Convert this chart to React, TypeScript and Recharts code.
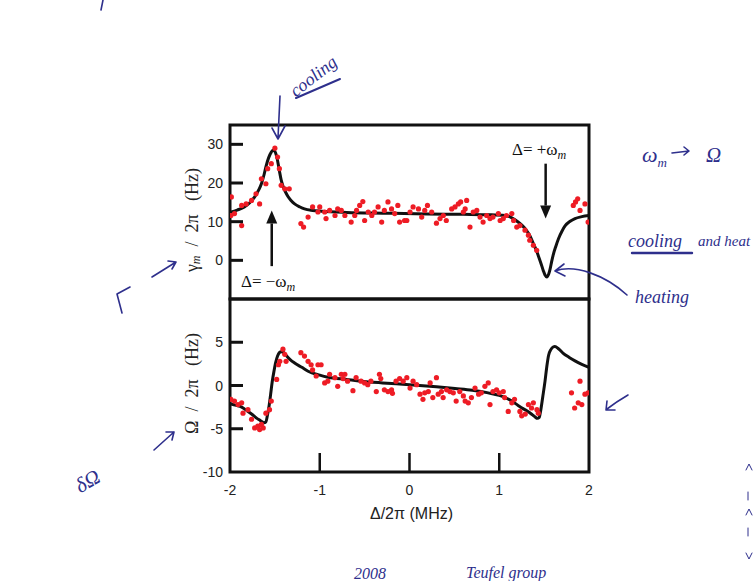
import { ComposedChart, Line, Scatter, XAxis, YAxis, ReferenceArea, ReferenceLine } from "recharts";

// detuning axis, MHz
const X_TICKS = [-2, -1, 0, 1, 2];
const GAMMA_TICKS = [0, 10, 20, 30];
const OMEGA_TICKS = [-10, -5, 0, 5];

// fitted damping rate γm/2π (Hz)
const gammaFitX = [-2, -1.92, -1.84, -1.78, -1.725, -1.68, -1.65, -1.62, -1.6, -1.57, -1.54, -1.52, -1.5, -1.48, -1.45, -1.43, -1.41, -1.38, -1.354, -1.32, -1.28, -1.22, -1.17, -1.08, -0.98, -0.7, -0.3, 0.2, 0.6, 0.9, 1.064, 1.14, 1.21, 1.26, 1.305, 1.345, 1.38, 1.41, 1.435, 1.465, 1.49, 1.51, 1.53, 1.55, 1.565, 1.585, 1.6, 1.63, 1.66, 1.7, 1.733, 1.79, 1.844, 1.92, 2];
const gammaFitY = [12.4, 13.0, 13.8, 14.9, 16.4, 18.2, 19.8, 22.2, 24.2, 26.5, 28.0, 28.5, 28.2, 26.9, 23.2, 20.8, 19.2, 17.6, 16.5, 15.5, 14.6, 13.8, 13.3, 12.9, 12.7, 12.4, 12.2, 12.0, 11.9, 11.8, 11.6, 11.0, 9.9, 8.9, 7.7, 6.2, 4.3, 2.8, 1.2, -0.8, -2.6, -3.8, -4.3, -3.6, -2.4, -0.2, 1.3, 3.6, 5.6, 7.6, 8.9, 10.1, 10.8, 11.3, 11.6];

// measured damping rate
const gammaDataX = [-1.985, -1.99, -1.95, -1.87, -1.87, -1.82, -1.76, -1.67, -1.71, -1.65, -1.6, -1.58, -1.54, -1.5, -1.47, -1.45, -1.43, -1.39, -1.34, -1.21, -1.18, -1.13, -1.08, -1.02, -1.0, -0.945, -0.93, -0.89, -0.83, -0.8, -0.76, -0.72, -0.65, -0.61, -0.59, -0.555, -0.52, -0.5, -0.46, -0.42, -0.39, -0.35, -0.31, -0.28, -0.24, -0.2, -0.165, -0.13, -0.11, -0.055, -0.03, 0.006, 0.04, 0.1, 0.136, 0.17, 0.2, 0.247, 0.3, 0.34, 0.377, 0.41, 0.47, 0.507, 0.544, 0.57, 0.637, 0.6, 0.62, 0.674, 0.71, 0.75, 0.786, 0.82, 0.86, 0.897, 0.93, 0.99, 1.01, 1.045, 1.08, 1.14, 1.16, 1.195, 1.23, 1.287, 1.325, 1.34, 1.38, 1.417, 1.825, 1.85, 1.874, 1.9, 1.955, 1.99];
const gammaDataY = [16.4, 11.6, 12.1, 14.2, 9.0, 14.6, 15.5, 14.6, 17.2, 21.1, 19.8, 23.7, 25, 29, 26.7, 23.7, 19.4, 18.5, 18.5, 9.5, 8.6, 11.2, 13.8, 12.5, 13.8, 12.5, 10.8, 12.9, 11.6, 13.3, 12.9, 11.6, 9.9, 11.6, 12.9, 14.2, 15.2, 10.3, 12.5, 11.6, 12.5, 13.8, 9.9, 12.9, 15.1, 13.3, 12.1, 14.2, 9.9, 10.3, 10.3, 12.5, 13.8, 13.3, 11.2, 12.9, 14.2, 12.5, 9.6, 10.8, 11.6, 10.3, 13.3, 13.8, 14.6, 15.1, 15.5, 12.5, 13.3, 8.6, 12.5, 12.9, 11.2, 9.9, 11.6, 10.8, 11.2, 12.1, 10.3, 10.8, 11.6, 12.1, 10.3, 8.6, 9.0, 7.8, 6.5, 5.2, 3.9, 2.6, 14.2, 15.1, 15.9, 12.9, 14.6, 9.9];

// fitted frequency shift Ω/2π (Hz)
const omegaFitX = [-2, -1.93, -1.87, -1.8, -1.76, -1.7, -1.67, -1.64, -1.62, -1.6, -1.584, -1.565, -1.547, -1.53, -1.51, -1.49, -1.47, -1.45, -1.43, -1.4, -1.376, -1.33, -1.28, -1.2, -1.13, -1.0, -0.908, -0.7, -0.54, -0.3, 0, 0.3, 0.507, 0.7, 0.877, 1.0, 1.064, 1.14, 1.21, 1.27, 1.32, 1.37, 1.4, 1.425, 1.445, 1.46, 1.485, 1.51, 1.53, 1.55, 1.575, 1.6, 1.62, 1.66, 1.71, 1.78, 1.844, 1.92, 2];
const omegaFitY = [-2.1, -2.3, -2.5, -3.0, -3.3, -3.8, -4.0, -4.2, -4.3, -4.2, -3.5, -2.4, -1.0, 0.4, 1.65, 2.7, 3.4, 3.8, 3.9, 3.8, 3.5, 3.0, 2.6, 2.1, 1.65, 1.2, 0.96, 0.7, 0.5, 0.3, 0.1, -0.15, -0.35, -0.55, -0.85, -1.15, -1.4, -1.8, -2.3, -2.7, -3.0, -3.4, -3.65, -3.8, -3.7, -3.0, -1.3, 0.5, 2.2, 3.5, 4.15, 4.45, 4.5, 4.25, 3.75, 3.25, 2.85, 2.45, 2.1];

// measured frequency shift
const omegaDataX = [-1.99, -1.95, -1.91, -1.87, -1.855, -1.8, -1.76, -1.725, -1.69, -1.67, -1.65, -1.63, -1.6, -1.56, -1.54, -1.48, -1.46, -1.445, -1.41, -1.39, -1.375, -1.21, -1.17, -1.13, -1.096, -1.08, -1.02, -0.985, -1.04, -0.945, -0.91, -0.89, -0.83, -0.8, -0.76, -0.72, -0.74, -0.69, -0.63, -0.595, -0.54, -0.5, -0.465, -0.43, -0.37, -0.335, -0.32, -0.28, -0.24, -0.2, -0.19, -0.15, -0.11, -0.07, -0.03, 0.006, 0.04, 0.08, 0.117, 0.15, 0.17, 0.21, 0.23, 0.26, 0.3, 0.32, 0.356, 0.375, 0.414, 0.45, 0.488, 0.52, 0.56, 0.6, 0.62, 0.655, 0.69, 0.73, 0.77, 0.8, 0.84, 0.877, 0.897, 0.93, 0.97, 1.0, 1.045, 1.06, 1.1, 1.14, 1.17, 1.23, 1.25, 1.29, 1.325, 1.36, 1.38, 1.42, 1.435, 1.805, 1.84, 1.88, 1.9, 1.92, 1.955, 1.99];
const omegaDataY = [-1.6, -1.8, -2.2, -2.0, -3.2, -2.8, -3.9, -4.9, -4.7, -5.1, -4.5, -4.9, -3.2, -2.8, -1.8, 0.7, 2.4, 2.8, 4.2, 3.6, 2.8, 3.8, 3.4, 2.8, 2.4, 1.8, 2.4, 2.4, 1.1, 0.3, 0.5, 1.3, 0.9, -0.1, 1.3, 1.3, 0.8, 0.5, -0.6, 0.9, 0.5, 0.3, 0.1, 0.5, -0.7, 1.3, 0.8, -0.5, -0.7, -0.5, -0.9, 0.5, 0.8, 0.5, 0.9, -0.3, 0.5, 0.1, -1.0, -1.6, -0.85, -0.7, 0.3, -1.4, 0.9, -1.0, -0.7, -1.4, -0.5, -0.7, -0.85, -1.8, -0.7, -1.2, -1.8, -2.0, -1.4, -0.3, -1.0, -0.85, -0.1, 0.3, -2.2, -0.7, -0.5, -0.85, -0.7, -1.4, -3.0, -2.0, -1.6, -3.0, -3.5, -3.3, -2.2, -2.6, -2.0, -2.8, -3.2, -0.85, -2.6, -2.0, 0.5, -2.2, -1.0, -0.85];

const zip = (xs: number[], ys: number[]) => xs.map((x, i) => ({ x, y: ys[i] }));
const gammaFit = zip(gammaFitX, gammaFitY);
const gammaData = zip(gammaDataX, gammaDataY);
const omegaFit = zip(omegaFitX, omegaFitY);
const omegaData = zip(omegaDataX, omegaDataY);

const INK = "#111";
const DOT = "#ee1c25";
const PEN = "#2e2f8c";
const SANS = "'Liberation Sans', Arial, sans-serif";
const SERIF = "'Liberation Serif', 'Times New Roman', serif";

const Dot = (p: any) => <circle cx={p.cx} cy={p.cy} r={2.6} fill={DOT} />;

const yTick = (lo: number, hi: number) => (props: any) => {
  const { x, y, payload } = props;
  const v = payload.value;
  return (
    <g>
      {v > lo && v < hi && <line x1={x} x2={x + 13} y1={y} y2={y} stroke={INK} strokeWidth={3} />}
      <text x={x - 7} y={y} dy="0.36em" textAnchor="end" fontSize={14} fontFamily={SANS} fill="#222">{v}</text>
    </g>
  );
};

function XTick(props: any) {
  const { x, y, payload } = props;
  const v = payload.value;
  return (
    <g>
      {v > -2 && v < 2 && <line x1={x} x2={x} y1={y} y2={y - 19} stroke={INK} strokeWidth={2.5} />}
      <text x={x} y={y + 18} dy="0.36em" textAnchor="middle" fontSize={14} fontFamily={SANS} fill="#222">{v}</text>
    </g>
  );
}

const yTitle = (kind: "gamma" | "omega") => (props: any) => {
  const vb = props.viewBox || { x: 0, y: 0, width: 230, height: 0 };
  const cx = vb.x + vb.width - 38;
  const cy = vb.y + vb.height / 2 + (kind === "gamma" ? 8 : -2);
  return (
    <text transform={`rotate(-90 ${cx} ${cy})`} x={cx} y={cy} textAnchor="middle" dominantBaseline="central"
      fontFamily={SERIF} fontSize={18} fill="#222" style={{ whiteSpace: "pre" }}>
      {kind === "gamma" ? (
        <>γ<tspan fontSize={12} fontStyle="italic" dy={4}>m</tspan><tspan dy={-4}>{"  /  2π   (Hz)"}</tspan></>
      ) : (
        <>{"Ω  /  2π   (Hz)"}</>
      )}
    </text>
  );
};

const xTitle = (props: any) => {
  const vb = props.viewBox || { x: 230, y: 472, width: 359, height: 60 };
  return (
    <text x={vb.x + vb.width / 2 + 2} y={vb.y + 47} textAnchor="middle" fontFamily={SANS} fontSize={16} fill="#222">
      Δ/2π (MHz)
    </text>
  );
};

function Arrow(props: any) {
  const { x1, y1, x2, y2 } = props;
  const dir = Math.sign(y2 - y1) || 1;
  const head = 13;
  return (
    <g>
      <line x1={x1} y1={y1} x2={x2} y2={y2 - dir * head} stroke={INK} strokeWidth={2.5} />
      <path d={`M${x2},${y2} L${x2 - 5.5},${y2 - dir * head} L${x2 + 5.5},${y2 - dir * head} Z`} fill={INK} />
    </g>
  );
}

function Handwriting() {
  const s = { fill: "none", stroke: PEN, strokeWidth: 1.6, strokeLinecap: "round" as const, strokeLinejoin: "round" as const };
  const t = { fill: PEN, fontFamily: SERIF, fontStyle: "italic" as const };
  return (
    <svg width={754} height={581} style={{ position: "absolute", left: 0, top: 0, pointerEvents: "none" }}>
      <path d="M103,0 L101,10" {...s} />
      {/* cooling label above the red-detuned peak */}
      <text x={314} y={82} textAnchor="middle" fontSize={18} transform="rotate(-38 314 77)" {...t}>cooling</text>
      <path d="M296,98 L340,79" {...s} strokeWidth={2} />
      <path d="M280,96 L278,138 M272,128 L278,139 L285,126" {...s} />
      {/* right margin notes */}
      <text x={642} y={162} fontSize={22} {...t}>ω<tspan fontSize={13} dy={5}>m</tspan></text>
      <path d="M672,153 L689,151 M684,147 L689,151 L684,155" {...s} />
      <text x={706} y={162} fontSize={21} {...t}>Ω</text>
      <text x={628} y={247} fontSize={18} {...t}>cooling</text>
      <text x={698} y={246} fontSize={15} {...t}>and heat</text>
      <path d="M632,253 L692,253" {...s} strokeWidth={2.4} />
      <text x={635} y={303} fontSize={18} {...t}>heating</text>
      <path d="M555,271 C575,264 605,275 627,295 M564,264 L555,271 L565,276" {...s} />
      {/* left margin notes */}
      <path d="M130,287 L117,294 L122,313" {...s} />
      <path d="M152,277 L176,262 M168,261 L176,262 L172,269" {...s} />
      <path d="M154,450 L174,432 M166,432 L174,432 L172,440" {...s} />
      <text x={88} y={488} textAnchor="middle" fontSize={21} transform="rotate(-30 88 482)" {...t}>δΩ</text>
      <path d="M628,395 Q616,402 607,409 M607,401 L606,410 L615,410" {...s} />
      {/* bottom notes */}
      <text x={354} y={579} fontSize={16} {...t}>2008</text>
      <text x={466} y={578} fontSize={16} {...t}>Teufel group</text>
      <path d="M746,470 L749,464 L752,470 M748,492 L748,500 M746,515 L749,509 L752,515 M748,528 L748,536 M746,553 L749,559 L752,553" {...s} strokeWidth={1} />
    </svg>
  );
}

export default function App() {
  return (
    <div style={{ position: "absolute", left: 0, top: 0, width: 754, height: 581, overflow: "hidden", background: "#fff" }}>
      {/* upper panel: damping */}
      <div style={{ position: "absolute", left: 0, top: 0 }}>
        <ComposedChart width={754} height={581} margin={{ top: 125, right: 165, bottom: 282, left: 0 }}>
          <XAxis type="number" dataKey="x" domain={[-2, 2]} hide allowDataOverflow />
          <YAxis type="number" domain={[-10, 35]} ticks={GAMMA_TICKS} width={230} interval={0}
            axisLine={false} tickLine={false} tickSize={0} tickMargin={0} tick={yTick(-10, 35)} label={yTitle("gamma")} allowDataOverflow />
          <Scatter data={gammaData} dataKey="y" shape={Dot} isAnimationActive={false} />
          <Line data={gammaFit} dataKey="y" type="monotone" stroke={INK} strokeWidth={3} dot={false} isAnimationActive={false} />
          <ReferenceLine segment={[{ x: -1.535, y: -1.5 }, { x: -1.535, y: 12.9 }]} shape={Arrow} />
          <ReferenceLine segment={[{ x: 1.517, y: 25 }, { x: 1.517, y: 10.8 }]} shape={Arrow} />
          <ReferenceArea x1={-2} x2={2} y1={-10} y2={35} fill="none" stroke={INK} strokeWidth={3} />
        </ComposedChart>
      </div>
      {/* lower panel: frequency shift */}
      <div style={{ position: "absolute", left: 0, top: 0 }}>
        <ComposedChart width={754} height={581} margin={{ top: 299, right: 165, bottom: 49, left: 0 }}>
          <XAxis type="number" dataKey="x" domain={[-2, 2]} ticks={X_TICKS} height={60} interval={0}
            axisLine={false} tickLine={false} tickSize={0} tickMargin={0} tick={XTick} label={xTitle} allowDataOverflow />
          <YAxis type="number" domain={[-10, 10]} ticks={OMEGA_TICKS} width={230} interval={0}
            axisLine={false} tickLine={false} tickSize={0} tickMargin={0} tick={yTick(-10, 10)} label={yTitle("omega")} allowDataOverflow />
          <Scatter data={omegaData} dataKey="y" shape={Dot} isAnimationActive={false} />
          <Line data={omegaFit} dataKey="y" type="monotone" stroke={INK} strokeWidth={3} dot={false} isAnimationActive={false} />
          <ReferenceArea x1={-2} x2={2} y1={-10} y2={10} fill="none" stroke={INK} strokeWidth={3} />
        </ComposedChart>
      </div>
      {/* Δ annotations of the sidebands */}
      <svg width={754} height={581} style={{ position: "absolute", left: 0, top: 0, pointerEvents: "none" }}>
        <text x={241} y={287} fontFamily={SERIF} fontSize={17} fill={INK}>Δ= −ω<tspan fontStyle="italic" fontSize={12} dy={4}>m</tspan></text>
        <text x={512} y={155} fontFamily={SERIF} fontSize={17} fill={INK}>Δ= +ω<tspan fontStyle="italic" fontSize={12} dy={4}>m</tspan></text>
      </svg>
      <Handwriting />
    </div>
  );
}
